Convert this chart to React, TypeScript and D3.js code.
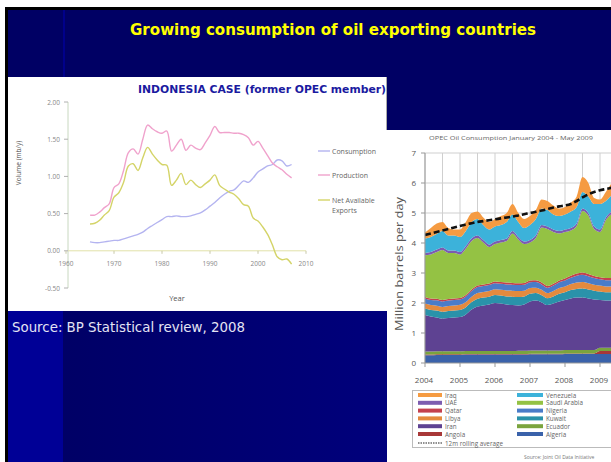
import React from "react";
import * as d3 from "d3";

// ---------- Left chart data (Indonesia, mb/d) ----------
const years = d3.range(1965, 2008);
const production = [0.48,0.48,0.52,0.58,0.63,0.85,0.90,1.08,1.32,1.37,1.30,1.50,1.69,1.64,1.60,1.58,1.61,1.34,1.42,1.50,1.35,1.42,1.38,1.36,1.45,1.55,1.67,1.59,1.59,1.59,1.58,1.58,1.56,1.52,1.42,1.47,1.38,1.28,1.18,1.13,1.09,1.03,0.98];
const consumption = [0.12,0.11,0.11,0.12,0.13,0.14,0.14,0.16,0.18,0.20,0.22,0.25,0.30,0.34,0.38,0.42,0.46,0.46,0.47,0.46,0.46,0.47,0.49,0.51,0.55,0.60,0.65,0.71,0.76,0.80,0.82,0.88,0.94,0.92,0.98,1.06,1.10,1.14,1.16,1.22,1.21,1.14,1.16];
const netExports = [0.36,0.37,0.41,0.48,0.54,0.72,0.78,0.92,1.14,1.17,1.08,1.25,1.39,1.30,1.22,1.16,1.15,0.88,0.95,1.04,0.89,0.95,0.89,0.85,0.90,0.95,1.02,0.88,0.83,0.79,0.76,0.70,0.62,0.60,0.44,0.40,0.32,0.22,0.08,-0.08,-0.12,-0.11,-0.18];
const leftYTicks = [-0.5, 0, 0.5, 1.0, 1.5, 2.0];
const leftXTicks = [1960, 1970, 1980, 1990, 2000, 2010];

// ---------- Right chart data (OPEC consumption, bimonthly Jan 2004 - May 2009) ----------
const months = d3.range(0, 65, 2);
const algeria = [0.26,0.26,0.27,0.27,0.27,0.27,0.27,0.28,0.28,0.28,0.28,0.28,0.28,0.28,0.28,0.28,0.28,0.28,0.29,0.29,0.29,0.29,0.29,0.29,0.30,0.30,0.30,0.30,0.30,0.30,0.30,0.30,0.30];
const angola = [0.02,0.02,0.02,0.02,0.02,0.02,0.02,0.02,0.02,0.02,0.02,0.02,0.02,0.02,0.02,0.02,0.02,0.02,0.02,0.02,0.02,0.02,0.02,0.02,0.02,0.02,0.02,0.02,0.02,0.02,0.10,0.10,0.10];
const ecuador = [0.10,0.10,0.10,0.10,0.10,0.10,0.10,0.10,0.10,0.10,0.10,0.10,0.10,0.10,0.10,0.10,0.11,0.11,0.11,0.11,0.11,0.11,0.11,0.11,0.11,0.11,0.11,0.11,0.11,0.11,0.11,0.11,0.11];
const iran = [1.22,1.17,1.13,1.09,1.11,1.13,1.14,1.22,1.38,1.48,1.52,1.55,1.60,1.58,1.55,1.53,1.51,1.54,1.63,1.66,1.60,1.51,1.56,1.63,1.67,1.72,1.75,1.75,1.72,1.69,1.59,1.57,1.57];
const kuwait = [0.22,0.22,0.23,0.23,0.23,0.23,0.24,0.24,0.25,0.26,0.26,0.26,0.27,0.27,0.27,0.28,0.28,0.27,0.26,0.25,0.24,0.23,0.24,0.26,0.26,0.28,0.29,0.30,0.30,0.29,0.28,0.28,0.28];
const libya = [0.16,0.16,0.16,0.16,0.17,0.17,0.17,0.17,0.18,0.19,0.19,0.19,0.19,0.19,0.20,0.20,0.20,0.19,0.19,0.18,0.18,0.17,0.18,0.19,0.19,0.20,0.21,0.22,0.21,0.20,0.20,0.19,0.19];
const nigeria = [0.17,0.17,0.18,0.18,0.18,0.18,0.18,0.19,0.19,0.20,0.20,0.20,0.20,0.20,0.20,0.20,0.20,0.20,0.19,0.19,0.18,0.18,0.18,0.19,0.20,0.21,0.23,0.24,0.23,0.22,0.21,0.21,0.21];
const qatar = [0.05,0.05,0.05,0.05,0.05,0.05,0.05,0.05,0.05,0.05,0.05,0.05,0.06,0.06,0.06,0.06,0.06,0.06,0.06,0.06,0.06,0.06,0.06,0.06,0.07,0.07,0.07,0.08,0.08,0.07,0.07,0.07,0.07];
const saudi = [1.39,1.47,1.56,1.67,1.54,1.52,1.45,1.55,1.62,1.59,1.40,1.22,1.25,1.32,1.39,1.65,1.46,1.30,1.27,1.41,1.84,1.90,1.73,1.57,1.55,1.51,1.59,2.05,1.95,1.57,1.51,1.94,2.14];
const uae = [0.08,0.08,0.08,0.08,0.08,0.08,0.08,0.08,0.08,0.08,0.08,0.08,0.08,0.08,0.08,0.08,0.08,0.08,0.08,0.08,0.08,0.08,0.08,0.08,0.08,0.08,0.08,0.08,0.08,0.08,0.08,0.08,0.08];
const venezuela = [0.48,0.50,0.52,0.55,0.50,0.50,0.50,0.50,0.55,0.55,0.50,0.50,0.50,0.50,0.55,0.55,0.50,0.45,0.50,0.55,0.55,0.55,0.50,0.50,0.50,0.55,0.55,0.55,0.55,0.75,0.85,0.55,0.55];
const iraq = [0.20,0.30,0.35,0.30,0.25,0.20,0.25,0.30,0.30,0.25,0.25,0.25,0.25,0.30,0.30,0.35,0.30,0.30,0.30,0.30,0.30,0.30,0.30,0.25,0.25,0.30,0.35,0.50,0.45,0.20,0.15,0.30,0.40];
const rolling = [4.27,4.32,4.37,4.42,4.47,4.52,4.57,4.62,4.66,4.70,4.73,4.76,4.79,4.82,4.85,4.88,4.92,4.96,5.00,5.04,5.08,5.13,5.18,5.22,5.25,5.30,5.40,5.52,5.62,5.70,5.76,5.80,5.84];
const rightYTicks = [0, 1, 2, 3, 4, 5, 6, 7];
const rightXTicks = [2004, 2005, 2006, 2007, 2008, 2009];

const seriesKeys = ["Algeria","Angola","Ecuador","Iran","Kuwait","Libya","Nigeria","Qatar","Saudi Arabia","UAE","Venezuela","Iraq"];
const seriesValues = [algeria, angola, ecuador, iran, kuwait, libya, nigeria, qatar, saudi, uae, venezuela, iraq];
const seriesColors: Record<string, string> = {
  "Algeria": "#3a62aa",
  "Angola": "#a83838",
  "Ecuador": "#7aa43e",
  "Iran": "#5e4292",
  "Kuwait": "#2a92aa",
  "Libya": "#e48a3e",
  "Nigeria": "#4a7cc8",
  "Qatar": "#c4404e",
  "Saudi Arabia": "#94c244",
  "UAE": "#7c5cb0",
  "Venezuela": "#3cb2da",
  "Iraq": "#f59b42",
};
const legendLeft = ["Iraq", "UAE", "Qatar", "Libya", "Iran", "Angola"];
const legendRight = ["Venezuela", "Saudi Arabia", "Nigeria", "Kuwait", "Ecuador", "Algeria"];

export default function App() {
  // left chart scales
  const xL = d3.scaleLinear().domain([1960, 2010]).range([66, 306]);
  const yL = d3.scaleLinear().domain([-0.5, 2.0]).range([288, 102]);
  const lineL = (vals: number[]) =>
    d3.line<number>().x((_, i) => xL(years[i])).y((v) => yL(v)).curve(d3.curveCatmullRom.alpha(0.5))(vals) || "";

  // right chart scales
  const xR = d3.scaleLinear().domain([2004, 2009]).range([425, 600]);
  const yR = d3.scaleLinear().domain([0, 7]).range([363, 153]);
  const rows = months.map((m, i) => {
    const r: any = { t: 2004 + m / 12 };
    seriesKeys.forEach((k, j) => (r[k] = seriesValues[j][i]));
    return r;
  });
  const stacked = d3.stack<any>().keys(seriesKeys)(rows);
  const area = d3
    .area<any>()
    .x((d) => xR(d.data.t))
    .y0((d) => yR(d[0]))
    .y1((d) => yR(d[1]))
    .curve(d3.curveMonotoneX);
  const rollLine =
    d3.line<number>().x((_, i) => xR(2004 + months[i] / 12)).y((v) => yR(v)).curve(d3.curveMonotoneX)(rolling) || "";
  const halfYears = d3.range(2004, 2009.6, 0.5);

  const smallFont = "'Open Sans', 'DejaVu Sans', sans-serif";

  return (
    <svg width={611} height={462} style={{ position: "absolute", left: 0, top: 0 }} xmlns="http://www.w3.org/2000/svg">
      <defs>
        <linearGradient id="navyGrad" x1="0" x2="1" y1="0" y2="0">
          <stop offset="0" stopColor="#000066" />
          <stop offset="1" stopColor="#00007c" />
        </linearGradient>
        <clipPath id="rclip">
          <rect x={425} y={140} width={186} height={230} />
        </clipPath>
      </defs>
      {/* slide background */}
      <rect x={0} y={0} width={611} height={462} fill="#ffffff" />
      <rect x={5} y={7} width={606} height={455} fill="#000000" />
      <rect x={8} y={10} width={603} height={452} fill="#000064" />
      <rect x={63} y={10} width={2} height={67} fill="#00008a" />
      <rect x={63} y={311} width={324} height={151} fill="url(#navyGrad)" />
      <rect x={8} y={311} width={55} height={151} fill="#000096" />

      {/* title */}
      <text x={130} y={35} fill="#ffff00" fontFamily="'DejaVu Sans', Tahoma, sans-serif" fontWeight="bold" fontSize={15.5} textLength={406} lengthAdjust="spacingAndGlyphs">
        Growing consumption of oil exporting countries
      </text>

      {/* ---------- left chart ---------- */}
      <rect x={8} y={77} width={379} height={234} fill="#ffffff" />
      <line x1={386.5} y1={77} x2={386.5} y2={130} stroke="#aaaaaa" />
      <text x={138} y={93} fill="#1a1aa0" fontFamily="'DejaVu Sans', Verdana, sans-serif" fontWeight="bold" fontSize={11} textLength={248} lengthAdjust="spacingAndGlyphs">
        INDONESIA CASE (former OPEC member)
      </text>
      {/* axes */}
      <line x1={68} y1={yL(2.0)} x2={68} y2={yL(-0.5)} stroke="#c8d8c0" strokeWidth={1} />
      {leftYTicks.map((t) => (
        <g key={"ly" + t}>
          <line x1={64} x2={68} y1={yL(t)} y2={yL(t)} stroke="#b0b0b0" />
          <text x={60} y={yL(t) + 2.5} textAnchor="end" fontSize={6.5} fill="#888" fontFamily={smallFont}>
            {t.toFixed(2)}
          </text>
        </g>
      ))}
      <line x1={68} y1={yL(0)} x2={xL(2010)} y2={yL(0)} stroke="#e2e2a8" strokeWidth={1} />
      {leftXTicks.map((t) => (
        <g key={"lx" + t}>
          <line x1={xL(t)} x2={xL(t)} y1={yL(0)} y2={yL(0) + 3} stroke="#c8c8a8" />
          <text x={xL(t)} y={yL(0) + 15} textAnchor="middle" fontSize={6.5} fill="#888" fontFamily={smallFont}>
            {t}
          </text>
        </g>
      ))}
      <text x={177} y={301} textAnchor="middle" fontSize={7.5} fill="#555" fontFamily={smallFont}>
        Year
      </text>
      <text transform="translate(21,163) rotate(-90)" textAnchor="middle" fontSize={6.5} fill="#555" fontFamily={smallFont}>
        Volume (mb/y)
      </text>
      {/* lines */}
      <path d={lineL(consumption)} fill="none" stroke="#b4b4f0" strokeWidth={1.4} />
      <path d={lineL(production)} fill="none" stroke="#f0a2cc" strokeWidth={1.4} />
      <path d={lineL(netExports)} fill="none" stroke="#d4d468" strokeWidth={1.4} />
      {/* legend */}
      {[
        { label: ["Consumption"], color: "#b4b4f0", y: 151 },
        { label: ["Production"], color: "#f0a2cc", y: 175 },
        { label: ["Net Available", "Exports"], color: "#d4d468", y: 200 },
      ].map((e) => (
        <g key={e.label[0]}>
          <line x1={318} x2={330} y1={e.y} y2={e.y} stroke={e.color} strokeWidth={1.4} />
          {e.label.map((l, i) => (
            <text key={l} x={332} y={e.y + 2.5 + i * 10} fontSize={7} fill="#666" fontFamily={smallFont}>
              {l}
            </text>
          ))}
        </g>
      ))}

      {/* source text */}
      <text x={12} y={332} fill="#e4e4f4" fontFamily="'DejaVu Sans', Tahoma, sans-serif" fontSize={13.5} textLength={233} lengthAdjust="spacingAndGlyphs">
        Source: BP Statistical review, 2008
      </text>

      {/* ---------- right chart ---------- */}
      <rect x={387} y={130} width={224} height={332} fill="#ffffff" />
      <text x={429} y={140} fontSize={6} fill="#666" fontFamily={smallFont} textLength={164} lengthAdjust="spacingAndGlyphs">
        OPEC Oil Consumption January 2004 - May 2009
      </text>
      {/* grid */}
      {rightYTicks.filter((t) => t > 0).map((t) => (
        <line key={"hg" + t} x1={425} x2={611} y1={yR(t)} y2={yR(t)} stroke="#cfcfcf" strokeWidth={1} />
      ))}
      {halfYears.map((t) => (
        <line key={"vg" + t} x1={xR(t)} x2={xR(t)} y1={yR(7)} y2={yR(0)} stroke="#cfcfcf" strokeWidth={1} />
      ))}
      <g clipPath="url(#rclip)">
        {stacked.map((s) => (
          <path key={s.key} d={area(s) || ""} fill={seriesColors[s.key]} />
        ))}
        <path d={rollLine} fill="none" stroke="#111" strokeWidth={2.6} strokeDasharray="6,3" />
      </g>
      {/* axes */}
      <line x1={425} x2={425} y1={yR(7)} y2={yR(0)} stroke="#999" />
      <line x1={425} x2={611} y1={yR(0)} y2={yR(0)} stroke="#999" />
      {rightYTicks.map((t) => (
        <g key={"ry" + t}>
          <line x1={421} x2={425} y1={yR(t)} y2={yR(t)} stroke="#999" />
          <text x={416} y={yR(t) + 3} textAnchor="end" fontSize={8} fill="#555" fontFamily={smallFont}>
            {t}
          </text>
        </g>
      ))}
      {rightXTicks.map((t) => (
        <g key={"rx" + t}>
          <line x1={xR(t)} x2={xR(t)} y1={yR(0)} y2={yR(0) + 4} stroke="#999" />
          <text x={xR(t) - 1} y={yR(0) + 20} textAnchor="middle" fontSize={8} fill="#555" fontFamily={smallFont}>
            {t}
          </text>
        </g>
      ))}
      <text transform="translate(403,264) rotate(-90)" textAnchor="middle" fontSize={11} fill="#555" fontFamily={smallFont} textLength={134} lengthAdjust="spacingAndGlyphs">
        Million barrels per day
      </text>
      {/* legend */}
      <rect x={412.5} y={390.5} width={210} height={57} fill="none" stroke="#bbb" />
      {legendLeft.map((k, i) => (
        <g key={k}>
          <rect x={418} y={393 + i * 7.8} width={24} height={4} fill={seriesColors[k]} />
          <text x={445} y={397.5 + i * 7.8} fontSize={6.3} fill="#666" fontFamily={smallFont}>
            {k}
          </text>
        </g>
      ))}
      <line x1={418} x2={442} y1={443} y2={443} stroke="#222" strokeWidth={1.2} strokeDasharray="1.5,1" />
      <text x={445} y={445.5} fontSize={6.3} fill="#666" fontFamily={smallFont}>
        12m rolling average
      </text>
      {legendRight.map((k, i) => (
        <g key={k}>
          <rect x={517} y={393 + i * 7.8} width={26} height={4} fill={seriesColors[k]} />
          <text x={546} y={397.5 + i * 7.8} fontSize={6.3} fill="#666" fontFamily={smallFont}>
            {k}
          </text>
        </g>
      ))}
      <text x={524} y={459} fontSize={5} fill="#777" fontFamily={smallFont}>
        Source: Joint Oil Data Initiative
      </text>
    </svg>
  );
}
